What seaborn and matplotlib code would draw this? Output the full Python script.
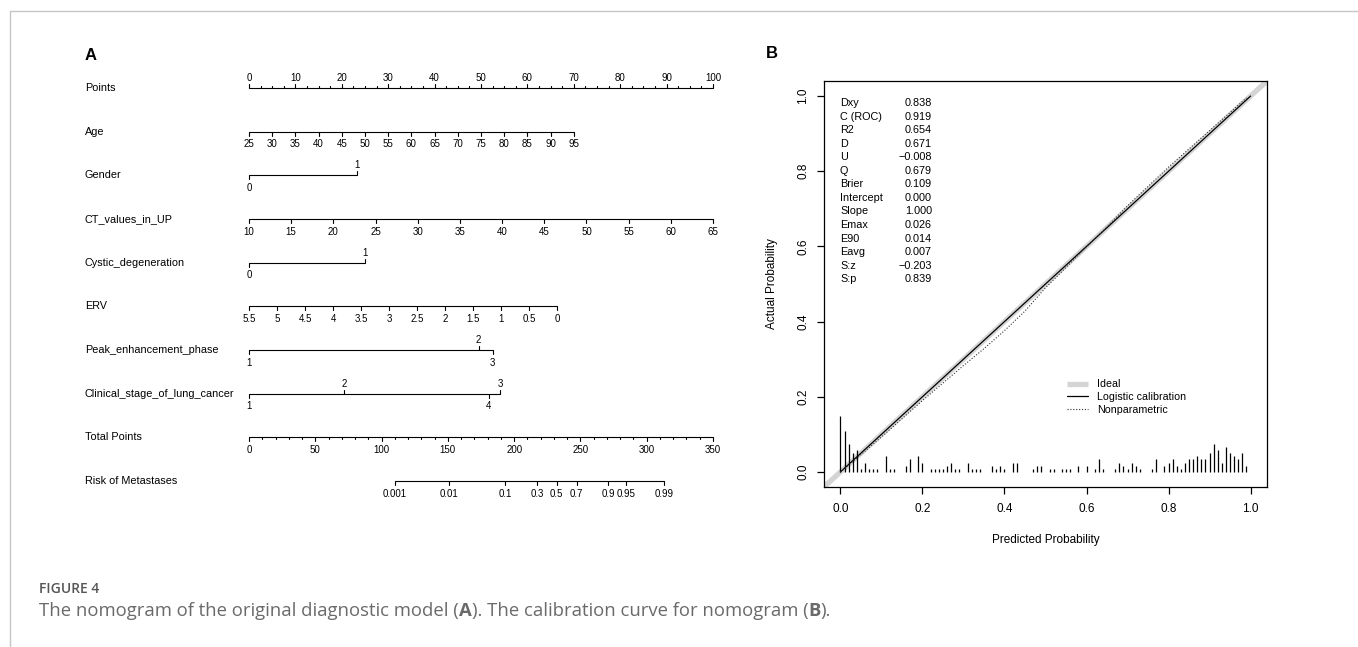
import numpy as np
import pandas as pd
import matplotlib
matplotlib.use('Agg')
import matplotlib.pyplot as plt
from matplotlib.lines import Line2D
import seaborn as sns

# -----------------------------------------------------------------------------
# Data
# -----------------------------------------------------------------------------

# Panel A - nomogram rows
row_labels = ['Points', 'Age', 'Gender', 'CT_values_in_UP', 'Cystic_degeneration', 'ERV',
              'Peak_enhancement_phase', 'Clinical_stage_of_lung_cancer', 'Total Points',
              'Risk of Metastases']

points_major = [0, 10, 20, 30, 40, 50, 60, 70, 80, 90, 100]
points_minor = [2.5, 5, 7.5]          # repeated inside each decade

age_values = [25, 30, 35, 40, 45, 50, 55, 60, 65, 70, 75, 80, 85, 90, 95]
age_scale = (25, 95, 0, 70)           # value_lo, value_hi, points_lo, points_hi

gender_levels = ['0', '1']
gender_points = [0, 23.3]
gender_side = ['below', 'above']

ct_values = [10, 15, 20, 25, 30, 35, 40, 45, 50, 55, 60, 65]
ct_scale = (10, 65, 0, 100)

cystic_levels = ['0', '1']
cystic_points = [0, 24.9]
cystic_side = ['below', 'above']

erv_values = [5.5, 5, 4.5, 4, 3.5, 3, 2.5, 2, 1.5, 1, 0.5, 0]
erv_scale = (5.5, 0, 0, 66.4)

peak_levels = ['1', '2', '3']
peak_points = [0, 49.5, 52.5]
peak_side = ['below', 'above', 'below']

stage_levels = ['1', '2', '3', '4']
stage_points = [0, 20.5, 54.1, 51.7]
stage_side = ['below', 'above', 'above', 'below']

total_major = [0, 50, 100, 150, 200, 250, 300, 350]
total_minor_step = 10
total_max = 350

risk_probs = [0.001, 0.01, 0.1, 0.3, 0.5, 0.7, 0.9, 0.95, 0.99]
risk_labels = ['0.001', '0.01', '0.1', '0.3', '0.5', '0.7', '0.9', '0.95', '0.99']
risk_mid_points = 232.1      # total points where risk = 0.5
risk_points_per_logit = 17.66

# Panel B - calibration
stat_names = ['Dxy', 'C (ROC)', 'R2', 'D', 'U', 'Q', 'Brier', 'Intercept', 'Slope',
              'Emax', 'E90', 'Eavg', 'S:z', 'S:p']
stat_values = ['0.838', '0.919', '0.654', '0.671', '\u22120.008', '0.679', '0.109', '0.000',
               '1.000', '0.026', '0.014', '0.007', '\u22120.203', '0.839']

logistic_pred = [0.0, 1.0]
logistic_actual = [0.0, 1.0]

nonpar_pred = [0.0, 0.05, 0.10, 0.20, 0.30, 0.35, 0.40, 0.45, 0.50, 0.60, 0.70, 0.80, 0.90, 0.99]
nonpar_actual = [0.0, 0.046, 0.093, 0.190, 0.283, 0.328, 0.376, 0.428, 0.490, 0.598, 0.708,
                 0.811, 0.908, 0.995]

spike_pred = [0.00, 0.01, 0.02, 0.03, 0.04, 0.05, 0.06, 0.07, 0.08, 0.09, 0.11, 0.12, 0.13,
              0.16, 0.17, 0.19, 0.20, 0.22, 0.23, 0.24, 0.25, 0.26, 0.27, 0.28, 0.29, 0.31,
              0.32, 0.33, 0.34, 0.37, 0.38, 0.39, 0.40, 0.42, 0.43, 0.47, 0.48, 0.49, 0.51,
              0.52, 0.54, 0.55, 0.56, 0.58, 0.60, 0.62, 0.63, 0.64, 0.67, 0.68, 0.69, 0.70,
              0.71, 0.72, 0.73, 0.76, 0.77, 0.79, 0.80, 0.81, 0.82, 0.83, 0.84, 0.85, 0.86,
              0.87, 0.88, 0.89, 0.90, 0.91, 0.92, 0.93, 0.94, 0.95, 0.96, 0.97, 0.98, 0.99]
spike_count = [18, 13, 9, 6, 7, 1, 3, 1, 1, 1, 5, 1, 1,
               2, 4, 5, 3, 1, 1, 1, 1, 2, 3, 1, 1, 3,
               1, 1, 1, 2, 1, 2, 1, 3, 3, 1, 2, 2, 1,
               1, 1, 1, 1, 2, 2, 1, 4, 1, 1, 3, 2, 1,
               3, 2, 1, 1, 4, 2, 3, 4, 2, 1, 3, 4, 4,
               5, 4, 4, 6, 9, 7, 3, 8, 6, 5, 4, 6, 2]
spike_max_height = 0.15

# -----------------------------------------------------------------------------
# Figure setup
# -----------------------------------------------------------------------------
W, H = 1358, 647
sns.set_theme(style='white')
plt.rcParams['font.family'] = ['Liberation Sans', 'DejaVu Sans']
plt.rcParams['axes.unicode_minus'] = True
for key in ['text.color', 'axes.labelcolor', 'xtick.color', 'ytick.color']:
    plt.rcParams[key] = 'black'

fig = plt.figure(figsize=(W / 100, H / 100), dpi=100)
fig.patch.set_facecolor('white')

# thin page frame
fig.add_artist(Line2D([9.5 / W, 9.5 / W], [0, 1 - 10.5 / H], transform=fig.transFigure,
                      color='#c6c6c6', lw=1.0))
fig.add_artist(Line2D([9.5 / W, 1], [1 - 10.5 / H, 1 - 10.5 / H], transform=fig.transFigure,
                      color='#c6c6c6', lw=1.0))

# -----------------------------------------------------------------------------
# Panel A - nomogram
# -----------------------------------------------------------------------------
row_top, row_step = 88, 43.67
x0_px, x1_px = 249, 713
top_px = row_top - 0.5 * row_step
bot_px = row_top + 9.5 * row_step
ax_a = fig.add_axes([x0_px / W, 1 - bot_px / H, (x1_px - x0_px) / W, (bot_px - top_px) / H])
ax_a.set_xlim(0, 100)
ax_a.set_ylim(9.5, -0.5)
ax_a.axis('off')

tick_major = 4 / row_step
tick_minor = 2 / row_step
lw_nomo = 0.8
fs_tick = 7.0


def scale_to_points(vals, scale):
    v0, v1, p0, p1 = scale
    return list(np.interp(vals, sorted([v0, v1]),
                          [p0, p1] if v0 < v1 else [p1, p0]))


def draw_row(row, xs, labels, sides, minor_xs=()):
    ax_a.plot([min(xs), max(xs)], [row, row], color='black', lw=lw_nomo,
              solid_capstyle='butt', clip_on=False)
    for x, lab, side in zip(xs, labels, sides):
        d = -1 if side == 'above' else 1
        ax_a.plot([x, x], [row, row + d * tick_major], color='black', lw=lw_nomo,
                  clip_on=False)
        off = 7.3 if side == 'above' else -9.0
        ax_a.annotate(lab, (x, row), xytext=(0, off), textcoords='offset points',
                      ha='center', va='center', fontsize=fs_tick, annotation_clip=False)
    side0 = sides[0]
    for x in minor_xs:
        d = -1 if side0 == 'above' else 1
        ax_a.plot([x, x], [row, row + d * tick_minor], color='black', lw=lw_nomo,
                  clip_on=False)


label_x = (85 - x0_px) / (x1_px - x0_px) * 100
for i, lab in enumerate(row_labels):
    ax_a.text(label_x, i, lab, ha='left', va='center', fontsize=7.8, clip_on=False)

# Points
p_minor = [d + m for d in points_major[:-1] for m in points_minor]
draw_row(0, points_major, [str(p) for p in points_major], ['above'] * len(points_major), p_minor)
# Age
draw_row(1, scale_to_points(age_values, age_scale), [str(a) for a in age_values],
         ['below'] * len(age_values))
# Gender
draw_row(2, gender_points, gender_levels, gender_side)
# CT values
draw_row(3, scale_to_points(ct_values, ct_scale), [str(c) for c in ct_values],
         ['below'] * len(ct_values))
# Cystic degeneration
draw_row(4, cystic_points, cystic_levels, cystic_side)
# ERV
draw_row(5, scale_to_points(erv_values, erv_scale), ['%g' % e for e in erv_values],
         ['below'] * len(erv_values))
# Peak enhancement phase
draw_row(6, peak_points, peak_levels, peak_side)
# Clinical stage
draw_row(7, stage_points, stage_levels, stage_side)
# Total points
tp_to_x = 100 / total_max
t_minor = [t * tp_to_x for t in range(0, total_max + 1, total_minor_step) if t not in total_major]
draw_row(8, [t * tp_to_x for t in total_major], [str(t) for t in total_major],
         ['below'] * len(total_major), t_minor)
# Risk
risk_logit = np.log(np.array(risk_probs) / (1 - np.array(risk_probs)))
risk_x = list((risk_mid_points + risk_points_per_logit * risk_logit) * tp_to_x)
draw_row(9, risk_x, risk_labels, ['below'] * len(risk_x))

fig.text(85 / W, 1 - 55 / H, 'A', fontsize=12, weight='bold', ha='left', va='center')

# -----------------------------------------------------------------------------
# Panel B - calibration curve
# -----------------------------------------------------------------------------
bl, br, bt, bb = 824, 1267, 81, 487
ax_b = fig.add_axes([bl / W, 1 - bb / H, (br - bl) / W, (bb - bt) / H])
ax_b.set_xlim(-0.04, 1.04)
ax_b.set_ylim(-0.04, 1.04)

ax_b.axline((0, 0), slope=1, color='#d4d4d4', lw=3.8, solid_capstyle='butt', zorder=1)

spike_h = np.array(spike_count) / max(spike_count) * spike_max_height
ax_b.vlines(spike_pred, 0, spike_h, color='black', lw=0.9, zorder=2)

logi_df = pd.DataFrame({'pred': logistic_pred, 'actual': logistic_actual})
nonp_df = pd.DataFrame({'pred': nonpar_pred, 'actual': nonpar_actual})
sns.lineplot(data=logi_df, x='pred', y='actual', ax=ax_b, color='black', lw=0.9,
             sort=False, estimator=None, zorder=3)
sns.lineplot(data=nonp_df, x='pred', y='actual', ax=ax_b, color='#333333', lw=0.8,
             linestyle=(0, (1, 1.6)), sort=False, estimator=None, zorder=3)

for sp in ax_b.spines.values():
    sp.set_visible(True)
    sp.set_color('black')
    sp.set_linewidth(0.9)

ticks = [0.0, 0.2, 0.4, 0.6, 0.8, 1.0]
ax_b.set_xticks(ticks)
ax_b.set_yticks(ticks)
ax_b.set_xticklabels(['%.1f' % t for t in ticks])
ax_b.set_yticklabels(['%.1f' % t for t in ticks], rotation=90, va='center')
ax_b.tick_params(axis='both', which='major', direction='out', length=5, width=0.9,
                 color='black', labelsize=8.5, labelcolor='black', bottom=True, left=True)
ax_b.tick_params(axis='x', pad=6.5)
ax_b.tick_params(axis='y', pad=5.5)
ax_b.set_xlabel('Predicted Probability', fontsize=8.5, labelpad=14, color='black')
ax_b.set_ylabel('Actual Probability', fontsize=8.5, labelpad=14, color='black')

# statistics block
y_px = 103
for name, val in zip(stat_names, stat_values):
    fy = 1 - y_px / H
    fig.text(840 / W, fy, name, fontsize=7.8, ha='left', va='center')
    fig.text(932 / W, fy, val, fontsize=7.8, ha='right', va='center')
    y_px += 13.55

handles = [Line2D([], [], color='#d4d4d4', lw=3.8, solid_capstyle='butt'),
           Line2D([], [], color='black', lw=0.9),
           Line2D([], [], color='#333333', lw=0.8, linestyle=(0, (1, 1.6)))]
fig.legend(handles, ['Ideal', 'Logistic calibration', 'Nonparametric'],
           loc='center left', bbox_to_anchor=(1062.5 / W, 1 - 397 / H), frameon=False,
           fontsize=7.7, handlelength=2.0, handletextpad=0.8, labelspacing=0.25,
           borderaxespad=0)

fig.text(766 / W, 1 - 54 / H, 'B', fontsize=12, weight='bold', ha='left', va='center')

# -----------------------------------------------------------------------------
# Caption
# -----------------------------------------------------------------------------
fig.text(39 / W, 1 - 589 / H, 'FIGURE 4', fontsize=10.0, color='#555555', weight='semibold',
         family=['Open Sans', 'DejaVu Sans'], ha='left', va='center')

renderer = fig.canvas.get_renderer()
caption_parts = [('The nomogram of the original diagnostic model (', 'normal'), ('A', 'bold'),
                 ('). The calibration curve for nomogram (', 'normal'), ('B', 'bold'),
                 (').', 'normal')]
cx = 39
for txt, wt in caption_parts:
    t = fig.text(cx / W, 1 - 611 / H, txt, fontsize=13.3, color='#6a6a6a', weight=wt,
                 family=['Open Sans', 'DejaVu Sans'], ha='left', va='center')
    cx += t.get_window_extent(renderer).width

fig.savefig('out.png', dpi=100, facecolor='white')
